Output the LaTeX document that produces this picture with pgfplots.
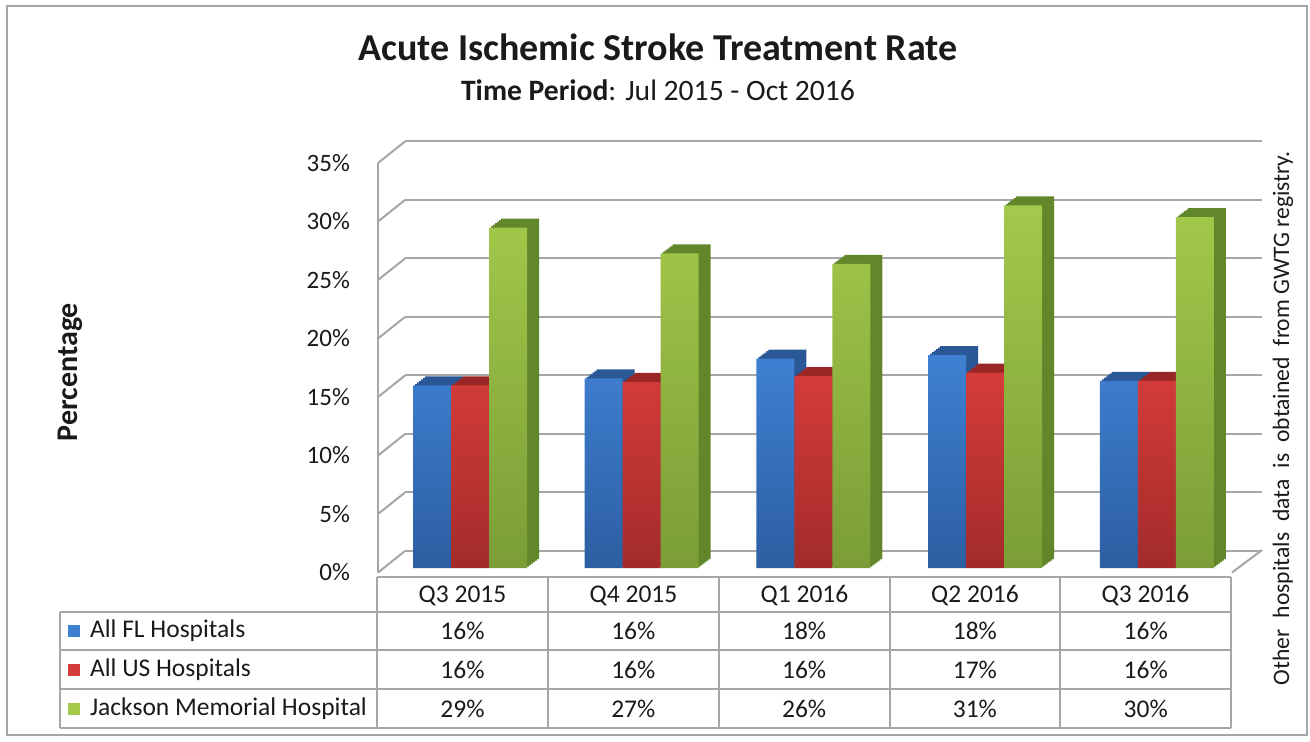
\documentclass[border=0pt]{standalone}
\usepackage{fontspec}
\setmainfont{Carlito}
\usepackage{pgfplots}
\usepackage{pgfplotstable}
\pgfplotsset{compat=1.18}
\definecolor{gridgray}{HTML}{A6A6A6}
\definecolor{txt}{HTML}{1A1A1A}
\definecolor{bluetop}{HTML}{3F80D2}
\definecolor{bluebot}{HTML}{2C5EA2}
\definecolor{blueside}{HTML}{2A5795}
\definecolor{redtop}{HTML}{D43C3A}
\definecolor{redbot}{HTML}{A32B2B}
\definecolor{redside}{HTML}{9A2626}
\definecolor{greentop}{HTML}{A2C94A}
\definecolor{greenbot}{HTML}{7A9D37}
\definecolor{greenside}{HTML}{62862A}

\pgfplotstableread{
x fl us jmh
0 15.6 15.6 29.1
1 16.2 15.9 26.9
2 17.9 16.4 26.0
3 18.2 16.7 31.0
4 16.0 16.0 30.0
}\datatable

\begin{document}
\begin{tikzpicture}
\useasboundingbox (0pt,0pt) rectangle (655pt,370.5pt);
\draw[gray!70, line width=1pt] (3.5pt,3pt) rectangle (653.5pt,367.5pt);

% back wall gridlines
\begin{scope}[shift={(202.5pt,95pt)}]
\begin{axis}[at={(0pt,0pt)}, anchor=south west, scale only axis,
  width=428.5pt, height=205pt, xmin=0, xmax=1, ymin=0, ymax=35,
  ytick={0,5,10,15,20,25,30,35}, xtick=\empty, yticklabels={},
  ymajorgrids, grid style={gridgray, line width=1pt},
  axis line style={draw=none}, major tick length=0pt]
\addplot[draw=none] coordinates {(0,0) (1,35)};
\end{axis}
\end{scope}

% front y axis with labels
\begin{scope}[shift={(189pt,84.25pt)}]
\begin{axis}[at={(0pt,0pt)}, anchor=south west, scale only axis,
  width=427pt, height=204.75pt, xmin=0, xmax=1, ymin=0, ymax=35,
  ytick={0,5,10,15,20,25,30,35},
  yticklabels={0\%,5\%,10\%,15\%,20\%,25\%,30\%,35\%},
  xtick=\empty, axis x line=none, axis y line*=left,
  y axis line style={gridgray, line width=1pt, -},
  major tick length=0pt, clip=false,
  yticklabel style={txt, font=\fontsize{12.5}{14}\selectfont, xshift=-10.5pt}]
\addplot[draw=none] coordinates {(0,0) (1,35)};
\pgfplotsinvokeforeach{0,5,10,15,20,25,30,35}{
  \draw[gridgray, line width=1pt] (axis cs:0,#1) -- ++(13.5pt,10.75pt);
}
\draw[gridgray, line width=1pt] (axis cs:1,0) -- ++(15pt,11.25pt);
\end{axis}
\end{scope}

% bars
\begin{scope}[shift={(192.1pt,86.5pt)}]
\begin{axis}[at={(0pt,0pt)}, anchor=south west, scale only axis,
  width=429.2pt, height=204.75pt, xmin=-0.5, xmax=4.5, ymin=0, ymax=35,
  axis lines=none, ybar, bar width=19pt, clip=false]
\pgfplotsinvokeforeach{6,5,4,3,2,1}{
  \addplot[draw=none, fill=blueside, bar shift=\the\dimexpr-19pt+#1pt\relax, yshift=#1*0.75pt] table[x=x,y=fl]{\datatable};
  \addplot[draw=none, fill=redside, bar shift=\the\dimexpr0pt+#1pt\relax, yshift=#1*0.75pt] table[x=x,y=us]{\datatable};
  \addplot[draw=none, fill=greenside, bar shift=\the\dimexpr19pt+#1pt\relax, yshift=#1*0.75pt] table[x=x,y=jmh]{\datatable};
}
\addplot[draw=none, top color=bluetop, bottom color=bluebot, bar shift=-19pt] table[x=x,y=fl]{\datatable};
\addplot[draw=none, top color=redtop, bottom color=redbot, bar shift=0pt] table[x=x,y=us]{\datatable};
\addplot[draw=none, top color=greentop, bottom color=greenbot, bar shift=19pt] table[x=x,y=jmh]{\datatable};
\end{axis}
\end{scope}

\node[txt, font=\fontsize{19}{22}\selectfont\bfseries] at (329pt,347pt) {Acute Ischemic Stroke Treatment Rate};
\node[txt, font=\fontsize{14.8}{17}\selectfont] at (329pt,325.5pt) {\textbf{Time Period}: Jul 2015 - Oct 2016};
\node[txt, rotate=90, font=\fontsize{15}{17}\selectfont\bfseries] at (35pt,184.5pt) {Percentage};
\node[txt, rotate=90, font=\fontsize{11.8}{14}\selectfont] at (641.5pt,161.5pt) {\makebox[267pt][s]{Other hospitals data is obtained \mbox{from GWTG registry.}}};

% data table
\begin{scope}[gridgray, line width=1pt]
\draw (188.5pt,82pt) -- (615.5pt,82pt);
\foreach \yy in {64.5,45.5,26,6.5} \draw (30pt,\yy pt) -- (615.5pt,\yy pt);
\draw (30pt,64.5pt) -- (30pt,6.5pt);
\foreach \xx in {188.5,274,359.5,445,530,615.5} \draw (\xx pt,82pt) -- (\xx pt,6.5pt);
\end{scope}
\begin{scope}[every node/.style={txt, font=\fontsize{12.75}{14}\selectfont}]
\node at (231.25pt,72.5pt) {Q3 2015};
\node at (316.75pt,72.5pt) {Q4 2015};
\node at (402.25pt,72.5pt) {Q1 2016};
\node at (487.5pt,72.5pt) {Q2 2016};
\node at (572.75pt,72.5pt) {Q3 2016};
\fill[bluetop] (34pt,52pt) rectangle (40pt,58pt);
\fill[redtop] (34pt,32.5pt) rectangle (40pt,38.5pt);
\fill[greentop] (34pt,13pt) rectangle (40pt,19pt);
\node[anchor=west] at (41.5pt,55pt) {All FL Hospitals};
\node[anchor=west] at (41.5pt,35.5pt) {All US Hospitals};
\node[anchor=west] at (41.5pt,16pt) {Jackson Memorial Hospital};
\foreach \v [count=\i from 0] in {16,16,18,18,16} \node at (231.25pt+85.4pt*\i,55pt) {\v\%};
\foreach \v [count=\i from 0] in {16,16,16,17,16} \node at (231.25pt+85.4pt*\i,35.5pt) {\v\%};
\foreach \v [count=\i from 0] in {29,27,26,31,30} \node at (231.25pt+85.4pt*\i,16pt) {\v\%};
\end{scope}
\end{tikzpicture}
\end{document}
